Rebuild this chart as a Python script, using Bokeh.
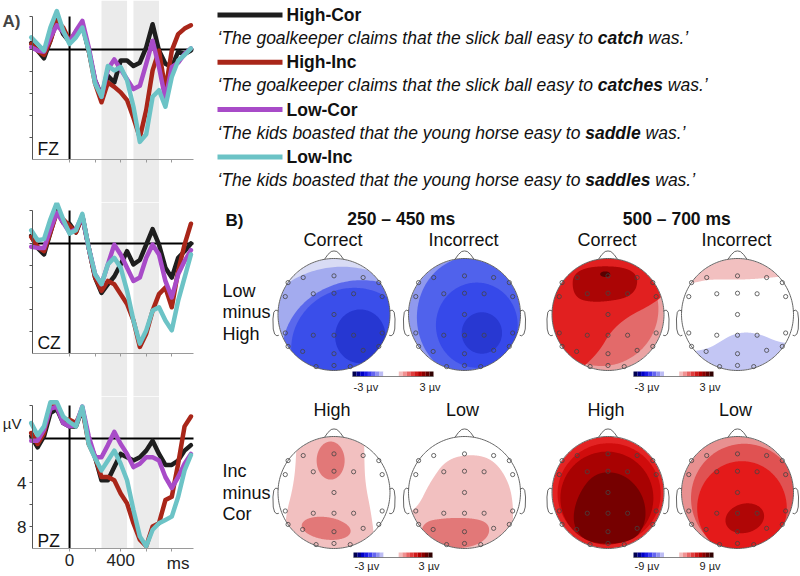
import numpy as np
from bokeh.plotting import figure
from bokeh.models import Range1d, FixedTicker, BoxAnnotation, Label, ColumnDataSource
from bokeh.layouts import row, column
from bokeh.embed import file_html
from bokeh.resources import INLINE
from bokeh.core.properties import value

FONT = "Liberation Sans"

# ---------------- ERP data (microvolts, negative plotted up) ----------------
times = list(range(-300, 951, 50))
conditions = ["High-Cor", "High-Inc", "Low-Cor", "Low-Inc"]
cond_colors = ["#1e1e1e", "#a92619", "#a84bc8", "#6cc3c6"]

fz_high_cor = [-0.6, 0.1, 0.8, -0.8, -2.8, -1.4, -0.7, -1.4, -2.3, 0.1, 2.8, 4.2, 2.4, 3.0, 1.0, 1.0, 1.5, 1.2, -0.2, -2.3, 0.1, 1.3, 1.6, 0.2, 0.4, 0.1]
fz_high_inc = [-0.5, 0.1, 0.5, -0.8, -2.6, -2.0, -0.8, -1.6, -2.3, 0.1, 3.1, 4.8, 3.0, 3.4, 3.9, 4.6, 6.2, 8.0, 5.5, 1.9, 0.1, 3.7, 0.1, -1.4, -1.9, -2.2]
fz_low_cor = [-0.2, 0.1, 0.2, -1.1, -2.2, -1.6, -0.7, -1.7, -2.6, -0.2, 2.8, 4.3, 1.8, 0.9, 1.8, 2.7, 3.6, 3.3, 1.3, -0.8, 1.6, 4.5, 1.6, 1.2, 0.4, -0.1]
fz_low_inc = [-1.1, -0.5, 0.1, -2.0, -3.5, -1.7, -0.5, -1.1, -2.0, 0.1, 3.1, 4.3, 1.5, 1.9, 1.6, 2.8, 5.2, 8.4, 7.7, 4.3, 3.7, 5.2, 2.5, 1.0, 0.5, -0.1]

cz_high_cor = [-0.7, 0.4, 1.0, -1.0, -3.0, -1.9, -1.8, -1.0, -2.5, 0.4, 3.1, 4.5, 3.7, 3.0, 1.9, 0.7, 1.9, 1.5, 0.1, -1.3, 0.1, 2.2, 3.1, 1.3, 0.7, 0.0]
cz_high_inc = [-0.6, 0.3, 0.7, -1.0, -2.8, -2.2, -1.6, -1.0, -2.5, 0.4, 3.1, 4.3, 3.4, 3.7, 4.6, 5.5, 7.0, 9.4, 8.2, 6.1, 4.6, 4.0, 5.8, 2.5, 0.1, -1.8]
cz_low_cor = [0.3, 0.4, 0.4, -1.3, -2.8, -1.9, -1.0, -1.3, -2.5, 0.4, 2.8, 3.7, 1.9, 0.1, 1.0, 2.2, 3.4, 3.1, 1.3, 0.1, 1.0, 3.4, 4.9, 2.8, 1.6, 0.6]
cz_low_inc = [-1.2, -0.3, -0.4, -2.2, -3.7, -2.2, -0.9, -1.2, -2.7, 0.4, 2.8, 3.7, 1.9, 1.3, 2.2, 4.3, 7.0, 9.1, 7.9, 6.1, 5.8, 7.0, 7.9, 5.2, 3.1, 1.0]

pz_high_cor = [-0.2, 0.8, -0.2, -2.3, -2.7, -1.4, -1.1, -1.1, -2.7, 0.2, 1.7, 3.8, 3.8, 2.6, 1.4, 1.7, 2.0, 1.7, 1.1, 0.2, 1.4, 2.4, 2.4, 2.0, 1.1, 0.6]
pz_high_inc = [-0.5, 0.5, -0.5, -2.9, -2.9, -1.7, -1.7, -1.4, -2.7, 0.5, 1.7, 3.5, 3.5, 3.8, 5.0, 5.9, 7.7, 9.2, 9.8, 8.0, 7.7, 5.6, 5.3, 2.3, -1.1, -2.0]
pz_low_cor = [0.2, 0.2, -0.8, -2.7, -2.9, -1.4, -1.1, -1.2, -2.9, -0.2, 1.7, 1.7, 0.6, -0.6, 0.5, 1.4, 2.6, 2.3, 1.7, 1.7, 2.0, 3.5, 4.5, 3.5, 2.3, 1.4]
pz_low_inc = [-1.4, -0.3, -1.1, -3.3, -3.3, -2.0, -1.5, -1.1, -2.9, 0.5, 1.8, 2.9, 2.0, 1.1, 2.3, 3.8, 6.5, 8.9, 9.8, 8.3, 7.7, 7.4, 7.1, 5.3, 2.9, 1.5]

sites = ["FZ", "CZ", "PZ"]
site_data = [
    [fz_high_cor, fz_high_inc, fz_low_cor, fz_low_inc],
    [cz_high_cor, cz_high_inc, cz_low_cor, cz_low_inc],
    [pz_high_cor, pz_high_inc, pz_low_cor, pz_low_inc],
]
x_ticks = [0, 200, 400, 600, 800]
x_tick_labels = {0: "0", 400: "400"}
y_ticks = [-3, 0, 2, 4, 6, 8]
y_tick_labels = {4: "4", 8: "8"}
axis_uv = (-3, 10)
axis_ms = (-290, 970)
time_windows = [(250, 450), (500, 700)]

# ---------------- legend ----------------
sentence_pre = ["‘The goalkeeper claims that the slick ball easy to ",
                "‘The goalkeeper claims that the slick ball easy to ",
                "‘The kids boasted that the young horse easy to ",
                "‘The kids boasted that the young horse easy to "]
sentence_key = ["catch", "catches", "saddle", "saddles"]
sentence_post = "was.’"

# ---------------- topographic maps (normalised head coords, radius 1) ----------------
window_titles = ["250 – 450 ms", "500 – 700 ms"]
row1_titles = ["Correct", "Incorrect", "Correct", "Incorrect"]
row2_titles = ["High", "Low", "High", "Low"]
row_labels = [["Low", "minus", "High"], ["Inc", "minus", "Cor"]]
scale_labels = [("-3 µv", "3 µv"), ("-3 µv", "3 µv"), ("-3 µv", "3 µv"), ("-9 µv", "9 µv")]
scale_palette = ["#000050", "#00008c", "#0000c8", "#1a1ae6", "#3c3cf0", "#6464f0", "#9090f0", "#bcbcf4",
                 "#ffffff", "#ffffff", "#ffffff", "#ffffff",
                 "#f4bcbc", "#f09090", "#e86464", "#e03c3c", "#d01a1a", "#b40000", "#8c0000", "#600000", "#300000"]

elec_x = [-0.55, 0.0, 0.52, -0.82, 0.80, -0.87, -0.37, 0.0, 0.35, 0.86, 0.0,
          -0.87, -0.37, 0.0, 0.35, 0.86, -0.82, 0.80, -0.56, 0.0, 0.52, -0.32, 0.0, 0.29]
elec_y = [0.66, 0.69, 0.66, 0.57, 0.57, 0.32, 0.37, 0.38, 0.37, 0.32, 0.0,
          -0.33, -0.37, -0.37, -0.37, -0.33, -0.57, -0.57, -0.66, -0.70, -0.64, -0.93, -0.91, -0.93]

# each map: background colour, then regions (colour, "e", cx, cy, rx, ry, angle) or (colour, "p", points)
topo_low_high_cor_early = ["#d8dbf4",
    ("#a3abef", "e", 0.10, -0.60, 1.60, 1.45, 8),
    ("#5a68ec", "e", 0.40, -0.55, 1.33, 1.15, 15),
    ("#3a4eea", "e", 0.33, -0.58, 1.10, 1.05, 20),
    ("#2637d2", "e", 0.47, -0.39, 0.45, 0.48, 0)]
topo_low_high_inc_early = ["#8f99ee",
    ("#5062ec", "e", 0.12, -0.05, 0.97, 1.08, 0),
    ("#3649ea", "e", 0.22, -0.19, 0.73, 0.76, 0),
    ("#2838d2", "e", 0.31, -0.33, 0.36, 0.37, 0)]
topo_low_high_cor_late = ["#eba3a3",
    ("#e36a6a", "e", -0.12, 0.10, 1.02, 1.02, 0),
    ("#e12020", "p", [(-1.2, 1.2), (1.2, 1.2), (1.05, 0.38), (0.75, 0.16), (0.35, -0.04), (0.05, -0.30),
                      (-0.15, -0.65), (-0.45, -0.95), (-0.8, -1.2), (-1.2, -1.2)]),
    ("#ab0505", "p", [(-0.62, 0.86), (0.52, 0.86), (0.52, 0.33), (-0.2, 0.2), (-0.64, 0.3)]),
    ("#5a0000", "e", -0.05, 0.72, 0.09, 0.05, 0)]
topo_low_high_inc_late = ["#ffffff",
    ("#f2c0c0", "p", [(-1.2, 0.52), (-0.8, 0.56), (-0.5, 0.63), (0.0, 0.62), (0.4, 0.64), (0.8, 0.68),
                      (1.2, 0.7), (1.2, 1.3), (-1.2, 1.3)]),
    ("#c3c6f4", "p", [(-1.2, -0.66), (-0.77, -0.66), (-0.5, -0.6), (-0.3, -0.48), (-0.1, -0.36), (0.15, -0.31),
                      (0.43, -0.36), (0.67, -0.47), (0.9, -0.52), (1.2, -0.52), (1.2, -1.3), (-1.2, -1.3)])]
topo_inc_cor_high_early = ["#ffffff",
    ("#f2c0c0", "p", [(-0.66, 1.3), (0.54, 1.3), (0.54, 0.6), (0.56, 0.15), (0.66, -0.35), (0.72, -0.8),
                      (0.72, -1.3), (-0.95, -1.3), (-0.86, -0.4), (-0.74, 0.05), (-0.68, 0.5)]),
    ("#e27878", "e", -0.06, 0.57, 0.25, 0.34, 0),
    ("#e27878", "e", -0.14, -0.64, 0.44, 0.20, -8)]
topo_inc_cor_low_early = ["#ffffff",
    ("#f2c0c0", "p", [(-1.2, -0.45), (-0.85, -0.3), (-0.62, 0.18), (-0.32, 0.6), (0.15, 0.69), (0.53, 0.58),
                      (0.8, 0.18), (0.88, -0.3), (0.84, -0.75), (0.7, -1.3), (-1.2, -1.3)]),
    ("#e27878", "p", [(-0.75, -0.52), (-0.3, -0.45), (0.2, -0.46), (0.44, -0.56), (0.44, -0.78),
                      (0.2, -0.96), (-0.3, -1.02), (-0.78, -0.86)])]
topo_inc_cor_high_late = ["#e42424",
    ("#d00c0c", "e", 0.02, -0.02, 0.92, 0.90, 0),
    ("#a80202", "e", -0.02, -0.10, 0.83, 0.83, 0),
    ("#760000", "p", [(-0.25, 0.36), (0.25, 0.36), (0.62, 0.0), (0.7, -0.5), (0.45, -0.9), (-0.35, -0.92),
                      (-0.64, -0.6), (-0.57, -0.1)])]
topo_inc_cor_low_late = ["#e89090",
    ("#e05252", "e", 0.12, -0.10, 0.95, 0.97, 0),
    ("#e41a1a", "e", 0.08, -0.28, 0.80, 0.84, 0),
    ("#b00606", "e", 0.13, -0.46, 0.35, 0.26, 15)]

topo_maps = [topo_low_high_cor_early, topo_low_high_inc_early, topo_low_high_cor_late, topo_low_high_inc_late,
             topo_inc_cor_high_early, topo_inc_cor_low_early, topo_inc_cor_high_late, topo_inc_cor_low_late]

# ---------------- layout constants (page pixels) ----------------
PX_PER_UV = 11.0
PX_PER_MS = 161.0 / 1260.0
AXIS_LEFT_PX = 32
head_cx = [333.5, 464.0, 607.5, 737.0]
head_cy = [314.0, 492.0]
head_r = 56.0
bar_x = [(352, 433), (633, 713), (353, 432), (633, 713)]
bar_y = [(371, 376), (371, 376), (552, 557), (552, 557)]
bar_label_y = [386, 386, 565, 565]


# ======================= left: ERP panels =======================
def erp_panel(idx, frame_h, pad_top):
    top = axis_uv[0] - pad_top / PX_PER_UV
    bottom = top + frame_h / PX_PER_UV
    x_start = axis_ms[0] - AXIS_LEFT_PX / PX_PER_MS
    x_end = x_start + 208 / PX_PER_MS
    p = figure(width=208, height=frame_h,
               x_range=Range1d(x_start, x_end), y_range=Range1d(bottom, top),
               output_backend="svg", toolbar_location=None,
               min_border_left=0, min_border_right=0, min_border_top=0, min_border_bottom=0)
    p.grid.visible = False
    p.outline_line_color = None
    for (a, b) in time_windows:
        p.add_layout(BoxAnnotation(left=a, right=b, bottom=(axis_uv[1] if idx == 2 else None),
                                   fill_color="#ebebeb", fill_alpha=1.0, line_color=None, level="underlay"))
    p.segment(x0=[axis_ms[0]], y0=[0], x1=[axis_ms[1]], y1=[0], line_color="black", line_width=2)
    p.segment(x0=[0], y0=[axis_uv[0]], x1=[0], y1=[axis_uv[1]], line_color="black", line_width=2)
    for vals, col in zip(site_data[idx], cond_colors):
        p.line(times, vals, line_color=col, line_width=4.5, line_join="round", line_cap="round")

    xa = p.xaxis[0]
    xa.fixed_location = axis_uv[1]
    xa.bounds = axis_ms
    xa.ticker = FixedTicker(ticks=x_ticks)
    xa.axis_line_color = "#9a9a9a"
    xa.major_tick_line_color = "#9a9a9a"
    xa.minor_tick_line_color = None
    xa.major_tick_out = 3
    xa.major_tick_in = 0
    xa.major_label_standoff = 2
    xa.major_label_text_font = FONT
    xa.major_label_text_font_size = "17px"
    xa.major_label_text_color = "#222222"
    ya = p.yaxis[0]
    ya.fixed_location = axis_ms[0]
    ya.bounds = axis_uv
    ya.ticker = FixedTicker(ticks=y_ticks)
    ya.axis_line_color = "#555555"
    ya.major_tick_line_color = "#555555"
    ya.minor_tick_line_color = None
    ya.major_tick_out = 3
    ya.major_tick_in = 0
    ya.major_label_standoff = 3
    ya.major_label_text_font = FONT
    ya.major_label_text_font_size = "17px"
    ya.major_label_text_color = "#222222"
    if idx == 2:
        xa.major_label_overrides = {t: x_tick_labels.get(t, "") for t in x_ticks}
        ya.major_label_overrides = {t: y_tick_labels.get(t, "") for t in y_ticks}
        p.add_layout(Label(x=850, y=axis_uv[1], y_offset=-5, text="ms", text_font=FONT,
                           text_font_size="17px", text_align="center", text_baseline="top",
                           text_color="#222222"))
        p.add_layout(Label(x=axis_ms[0], y=-1.4, x_offset=-11, text="µV", text_font=FONT,
                           text_font_size="15px", text_align="right", text_baseline="middle",
                           text_color="#222222"))
    else:
        xa.major_label_overrides = {t: "" for t in x_ticks}
        ya.major_label_overrides = {t: "" for t in y_ticks}
    p.add_layout(Label(x=-251, y=[9.0, 9.0, 9.3][idx], text=sites[idx], text_font=FONT,
                       text_font_size="17.5px", text_baseline="middle", text_color="#111111"))
    if idx == 0:
        p.add_layout(Label(x=axis_ms[0], y=-2.55, x_offset=-30, text="A)", text_font=FONT,
                           text_font_size="17px", text_font_style="bold", text_baseline="middle"))
    return p


fz = erp_panel(0, 202, 16)
cz = erp_panel(1, 194, 8)
pz = erp_panel(2, 180, 9)

# ======================= right: legend + topographic maps =======================
r = figure(width=592, height=576, x_range=Range1d(208, 800), y_range=Range1d(576, 0),
           output_backend="svg", toolbar_location=None, x_axis_type=None, y_axis_type=None,
           min_border=0)
r.grid.visible = False
r.outline_line_color = None

AW_REG = {"‘": 222, "’": 222, " ": 278, ".": 278, "T": 611, "a": 556, "b": 556, "c": 500, "d": 556,
          "e": 556, "g": 556, "h": 556, "i": 222, "k": 500, "l": 222, "m": 833, "n": 556, "o": 556,
          "p": 556, "r": 333, "s": 500, "t": 278, "u": 556, "w": 722, "y": 500}
AW_BOLD = {"a": 556, "c": 556, "d": 611, "e": 556, "h": 611, "l": 278, "s": 556, "t": 333}


def text_w(s, table, size):
    return sum(table.get(ch, 556) for ch in s) / 1000.0 * size


def add_text(xs, ys, texts, size, style="normal", align="left", color="#111111"):
    src = ColumnDataSource(dict(x=xs, y=ys, t=texts))
    r.text(x="x", y="y", text="t", source=src, text_font=value(FONT), text_font_size=value(size),
           text_font_style=value(style), text_align=value(align), text_baseline=value("middle"),
           text_color=color)


# legend
LEG_X0, LEG_X1, LEG_TXT = 217.0, 282.0, 286.0
FS = 17.5
name_y = [14.5 + 47.3 * k for k in range(4)]
sent_y = [37.5 + 47.3 * k for k in range(4)]
r.segment(x0=[LEG_X0] * 4, y0=name_y, x1=[LEG_X1] * 4, y1=name_y, line_color=cond_colors, line_width=5)
add_text([LEG_TXT] * 4, name_y, conditions, "17.5px", "bold")
x_pre = [LEG_X0] * 4
x_key = [LEG_X0 + text_w(s, AW_REG, FS) for s in sentence_pre]
x_post = [xk + text_w(k, AW_BOLD, FS) + text_w(" ", AW_REG, FS) for xk, k in zip(x_key, sentence_key)]
add_text(x_pre, sent_y, sentence_pre, "17.5px", "italic")
add_text(x_key, sent_y, sentence_key, "17.5px", "bold italic")
add_text(x_post, sent_y, [sentence_post] * 4, "17.5px", "italic")

# panel B headings
add_text([225], [220], ["B)"], "17px", "bold")
add_text([(head_cx[0] + head_cx[1]) / 2 + 2, (head_cx[2] + head_cx[3]) / 2 + 4], [218, 218], window_titles,
         "17.5px", "bold", "center")
add_text([hx - 1 for hx in head_cx], [239] * 4, row1_titles, "18px", "normal", "center")
add_text([hx - 2 for hx in head_cx], [409] * 4, row2_titles, "18px", "normal", "center")
add_text([222] * 3, [290, 311.5, 333], row_labels[0], "18px")
add_text([222] * 3, [470.5, 492, 513], row_labels[1], "18px")


# geometry helpers for topographic maps
def ellipse_pts(cx, cy, rx, ry, ang):
    t = np.linspace(0, 2 * np.pi, 240, endpoint=False)
    a = np.deg2rad(ang)
    x, y = rx * np.cos(t), ry * np.sin(t)
    return np.column_stack([cx + x * np.cos(a) - y * np.sin(a), cy + x * np.sin(a) + y * np.cos(a)])


def smooth_poly(pts, n_iter=4):
    P = np.array(pts, float)
    for _ in range(n_iter):
        N = np.roll(P, -1, axis=0)
        Q = 0.75 * P + 0.25 * N
        R = 0.25 * P + 0.75 * N
        P = np.empty((2 * len(Q), 2))
        P[0::2], P[1::2] = Q, R
    N = np.roll(P, -1, axis=0)
    f = np.linspace(0, 1, 6, endpoint=False)
    return (P[:, None, :] + (N - P)[:, None, :] * f[None, :, None]).reshape(-1, 2)


def clip_head(P):
    rr = np.hypot(P[:, 0], P[:, 1])
    s = np.minimum(1.0, 0.995 / np.maximum(rr, 1e-9))
    return P * s[:, None]


circle = np.column_stack([np.cos(np.linspace(0, 2 * np.pi, 200)), np.sin(np.linspace(0, 2 * np.pi, 200))])
nose = np.array([(-0.17, 0.985), (-0.11, 1.07), (-0.05, 1.125), (0.0, 1.135), (0.05, 1.125), (0.11, 1.07), (0.17, 0.985)])
ear = np.array([(-0.99, 0.06), (-1.04, 0.08), (-1.075, 0.04), (-1.09, -0.08), (-1.085, -0.26), (-1.06, -0.35),
                (-1.02, -0.38), (-0.985, -0.37)])

pxs, pys, pcols = [], [], []
lxs, lys = [], []
ex, ey = [], []
for m, tmap in enumerate(topo_maps):
    cx = head_cx[m % 4]
    cy = head_cy[m // 4]
    polys = [(tmap[0], circle * 0.995)]
    for reg in tmap[1:]:
        if reg[1] == "e":
            P = ellipse_pts(*reg[2:])
        else:
            P = smooth_poly(reg[2])
        polys.append((reg[0], clip_head(P)))
    for col, P in polys:
        pxs.append(list(cx + head_r * P[:, 0]))
        pys.append(list(cy - head_r * P[:, 1]))
        pcols.append(col)
    for shape in (circle, nose, ear, ear * np.array([-1, 1])):
        lxs.append(list(cx + head_r * shape[:, 0]))
        lys.append(list(cy - head_r * shape[:, 1]))
    ex += [cx + head_r * v for v in elec_x]
    ey += [cy - head_r * v for v in elec_y]

r.patches(xs=pxs, ys=pys, fill_color=pcols, line_color=None)
r.multi_line(xs=lxs, ys=lys, line_color="#555555", line_width=0.9)
r.scatter(x=ex, y=ey, marker="circle", size=4.2, fill_color=None, line_color="#444444", line_width=0.8)

# colour scales
for k in range(4):
    x0, x1 = bar_x[k]
    y0, y1 = bar_y[k]
    n = len(scale_palette)
    edges = np.linspace(x0, x1, n + 1)
    r.quad(left=edges[:-1], right=edges[1:], top=[y0] * n, bottom=[y1] * n, fill_color=scale_palette,
           line_color=None)
    r.segment(x0=[x0], y0=[y1], x1=[x1], y1=[y1], line_color="#666666", line_width=0.8)
    add_text([x0 + 1, x1 - 14], [bar_label_y[k]] * 2, list(scale_labels[k]), "11px", "normal", "left",
             "#222222")

layout = row(column(fz, cz, pz, spacing=0), r, spacing=0)
open("out.html", "w").write(file_html(layout, INLINE))
